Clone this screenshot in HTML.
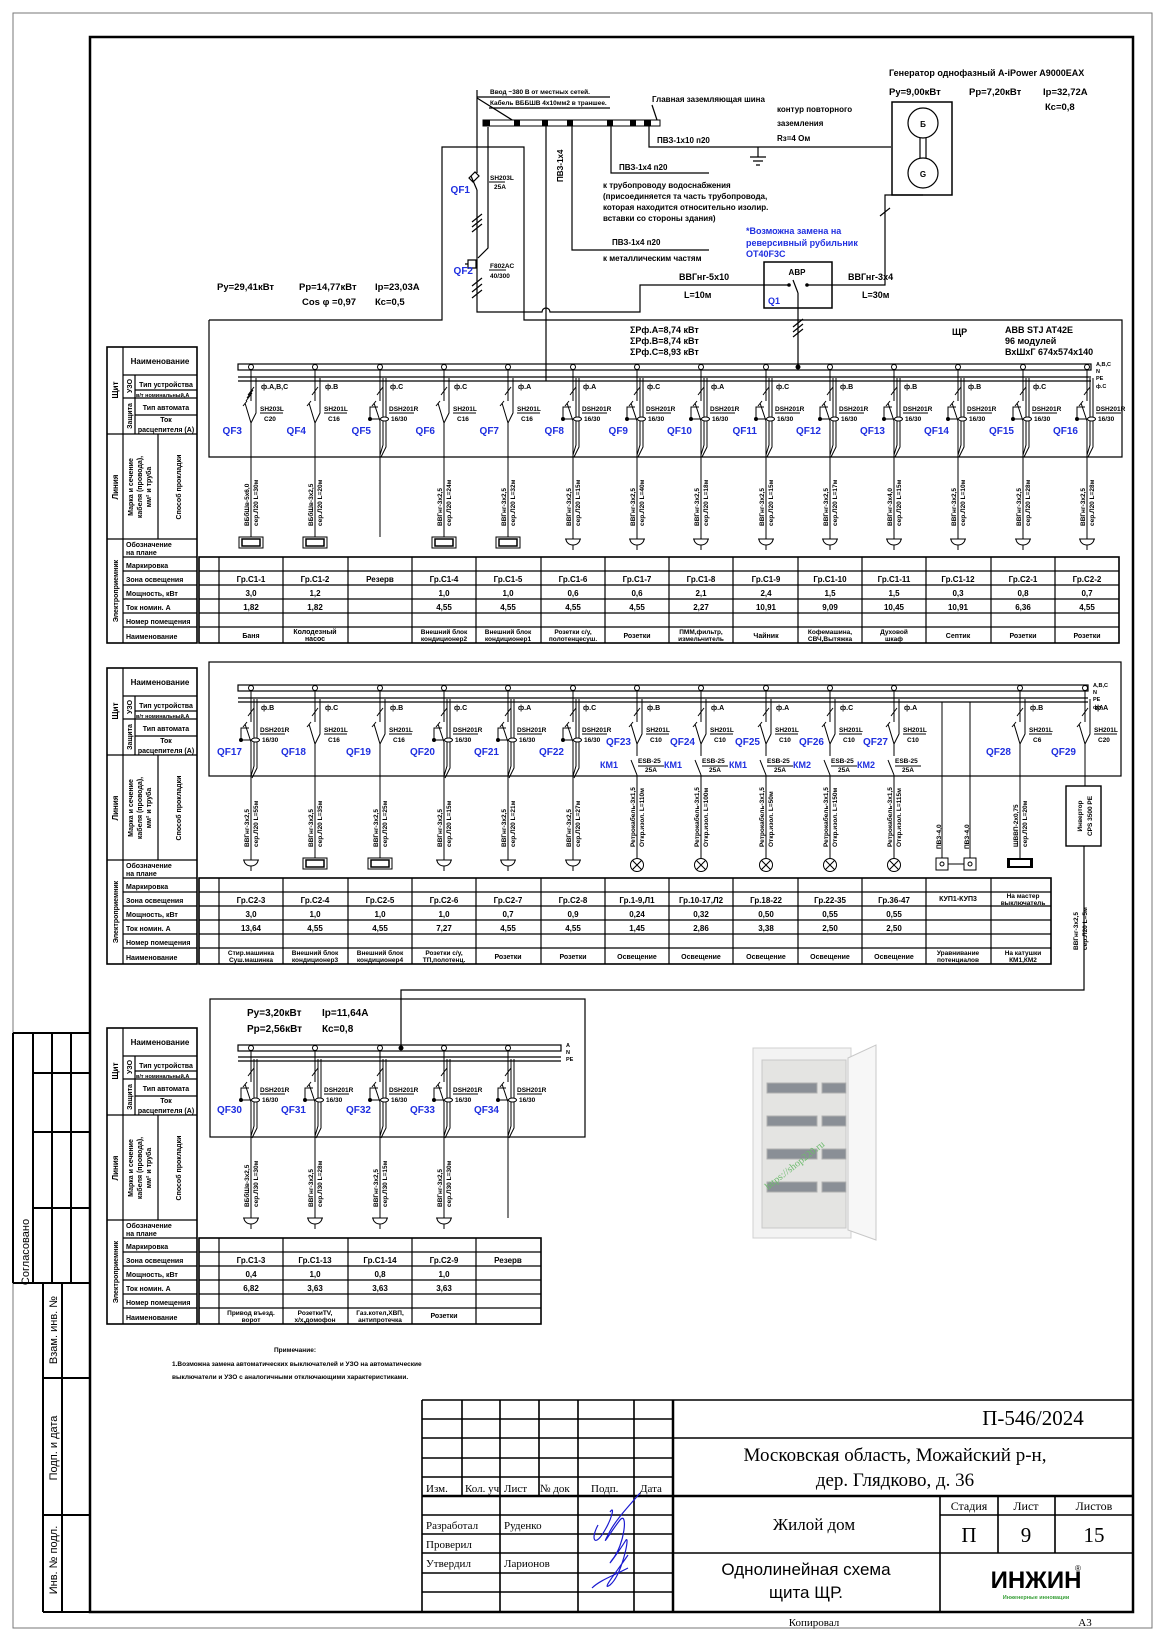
<!DOCTYPE html>
<html><head><meta charset="utf-8"><style>
html,body{margin:0;padding:0;background:#fff}
svg{display:block}
text{font-family:"Liberation Sans Narrow","Liberation Sans",sans-serif;font-weight:bold;font-size:8px;fill:#000}
.c{text-anchor:middle}.e{text-anchor:end}
.q{fill:#1f2fe0;font-size:10px}
.s{font-size:6.5px}
.m{font-size:9.5px;font-weight:normal}
.r{font-family:"Liberation Serif",serif;font-weight:normal}
.k{font-size:7px}
</style></head><body>
<svg width="1166" height="1649" viewBox="0 0 1166 1649" xmlns="http://www.w3.org/2000/svg">
<defs>
<g id="sh" fill="none" stroke="#000" stroke-width="1"><circle r="2.5" fill="#fff"/><path d="M0,2.5V34M-6,36L0,56M-8,39L-4,34M5,11V46L0,56M0,56V90M-3,28L3,20M9,46H32"/></g>
<g id="sh3" fill="none" stroke="#000" stroke-width="1"><circle r="2.5" fill="#fff"/><path d="M0,2.5V34M-6,36L0,56M-8,39L-4,34M5,11V46L0,56M0,56V90M-3,28L3,20M-4,31L2,23M-5,34L1,26M9,46H32"/></g>
<g id="dsh" fill="none" stroke="#000" stroke-width="1"><circle r="2.5" fill="#fff"/><path d="M0,2.5V34M-6,36L0,54M-8,39L-4,34M3,11V78L0,88M6,11V80L1,90M0,54V90M-3,28L3,20M-2,40H-10V52H9M9,46H34"/><ellipse cx="4.5" cy="52" rx="4" ry="2" fill="#fff"/><circle cx="-10" cy="52" r="1.5" fill="#000"/></g>
<g id="shk" fill="none" stroke="#000" stroke-width="1"><circle r="2.5" fill="#fff"/><path d="M0,2.5V34M-6,36L0,56M-8,39L-4,34M5,11V46L0,56M0,56V68M-6,72L0,87M0,87V170M-3,28L3,20M9,46H32M1,78H27"/></g>
<path id="feed" d="M0,90V170" stroke="#000" fill="none"/>
<g id="sock" fill="none" stroke="#000"><path d="M0,0V2M-8,2H8M-7,2A7,6 0 0 0 7,2M0,8V13"/></g>
<g id="boxL" fill="none" stroke="#000"><rect x="-12" y="0" width="24" height="11"/><rect x="-9" y="2" width="18" height="7" stroke-width="1.5"/></g>
<g id="lamp" fill="none" stroke="#000"><circle cy="7" r="6.5"/><path d="M-4.6,2.4L4.6,11.6M4.6,2.4L-4.6,11.6"/></g>
<g id="hdrl" fill="none" stroke="#000" stroke-width="1.2">
<rect x="107" y="347" width="90" height="296" stroke-width="1.6"/>
<path d="M123,347V643M107,434H197M107,539H197M123,375H197M123,398H197M135,375V434M135,390H197M135,415H197M158,434V539M123,557H197M123,571H197M123,585H197M123,599H197M123,613H197M123,627H197"/>
</g>
</defs>

<!-- page borders -->
<rect x="13" y="13" width="1139" height="1615" fill="none" stroke="#777" stroke-width="1"/>
<rect x="90" y="37" width="1043" height="1575" fill="none" stroke="#000" stroke-width="2.5"/>

<!-- left strip -->
<g fill="none" stroke="#000" stroke-width="2">
<path d="M13,1033H90M33,1033V1283M52,1033V1283M71,1033V1283M33,1073H90M33,1132H90M33,1208H90M13,1283H90M43,1283V1612M62,1283V1612M43,1378H90M43,1515H90M43,1612H90M13,1033V1283"/>
</g>
<text transform="translate(29,1252) rotate(-90)" class="c m" style="font-size:11px">Согласовано</text>
<text transform="translate(57,1330) rotate(-90)" class="c m" style="font-size:11px">Взам. инв. №</text>
<text transform="translate(57,1448) rotate(-90)" class="c m" style="font-size:11px">Подп. и дата</text>
<text transform="translate(57,1560) rotate(-90)" class="c m" style="font-size:11px">Инв. № подл.</text>

<!-- ============ TOP AREA ============ -->
<g fill="none" stroke="#000" stroke-width="1.2">
<path d="M477,90V173M477,190V312H542A4,4 0 0 1 550,312H640V285H789"/>
<path d="M477,98L517,123M488,127V248L478,258"/>
<path d="M471,176L477,190M469,178L475,172L479,176L473,182Z"/>
<path d="M472,222L482,214M472,227L482,219M472,232L482,224M472,286L482,278M472,292L482,284M472,298L482,290"/>
<path d="M468,260H476V268H468ZM465,264H468"/>
<path d="M477,97H610M489,108H610"/>
<path d="M652,105L657,120"/>
<path d="M546,126V381"/>
<path d="M572,126V250H709M611,126V173H709M649,126V147H891M758,147V157M750,157H766M753,161H763M756,165H760"/>
<path d="M209,320H442V147H524V320H1122V457H209V320"/>
<rect x="764" y="262" width="68" height="46" stroke-width="1.5"/>
<path d="M807,285H885V195H923M880,216L890,208M798,293V367M793,280L798,293M798,316L798,308"/>
<path d="M793,327L803,319M793,332L803,324M793,337L803,329"/>
<rect x="892" y="102" width="60" height="93" stroke-width="1.5"/>
<circle cx="923" cy="123" r="15"/><circle cx="923" cy="173" r="15"/>
<path d="M920,138V158M926,138V158"/>
</g>
<rect x="483" y="120" width="177" height="6" fill="#fff" stroke="#000"/>
<g fill="#000"><rect x="483" y="120" width="7" height="6"/><rect x="514" y="120" width="6" height="6"/><rect x="542" y="120" width="6" height="6"/><rect x="567" y="120" width="6" height="6"/><rect x="607" y="120" width="6" height="6"/><rect x="630" y="120" width="6" height="6"/><rect x="644" y="120" width="7" height="6"/>
<circle cx="789" cy="285" r="1.8"/><circle cx="807" cy="285" r="1.8"/><circle cx="798" cy="367" r="2.5"/></g>
<text x="490" y="94" class="s">Ввод ~380 В от местных сетей.</text>
<text x="490" y="105" class="s">Кабель ВББШВ 4х10мм2 в траншее.</text>
<text x="652" y="102">Главная заземляющая шина</text>
<text x="777" y="112">контур повторного</text>
<text x="777" y="126">заземления</text>
<text x="777" y="141">Rз=4 Ом</text>
<text x="657" y="143">ПВЗ-1х10 п20</text>
<text transform="translate(563,182) rotate(-90)">ПВЗ-1х4</text>
<text x="619" y="170">ПВЗ-1х4 п20</text>
<text x="603" y="188">к трубопроводу водоснабжения</text>
<text x="603" y="199">(присоединяется та часть трубопровода,</text>
<text x="603" y="210">которая находится относительно изолир.</text>
<text x="603" y="221">вставки со стороны здания)</text>
<text x="612" y="245">ПВЗ-1х4 п20</text>
<text x="603" y="261">к металлическим частям</text>
<text x="746" y="234" class="q" style="font-size:9px">*Возможна замена на</text>
<text x="746" y="246" class="q" style="font-size:9px">реверсивный рубильник</text>
<text x="746" y="257" class="q" style="font-size:9px">OT40F3C</text>
<text x="889" y="76" style="font-size:9px">Генератор однофазный A-iPower A9000EAX</text>
<text x="889" y="95" style="font-size:9.5px">Ру=9,00кВт</text>
<text x="969" y="95" style="font-size:9.5px">Рр=7,20кВт</text>
<text x="1043" y="95" style="font-size:9.5px">Iр=32,72А</text>
<text x="1045" y="110" style="font-size:9.5px">Кс=0,8</text>
<text x="923" y="127" class="c">Б</text><text x="923" y="177" class="c">G</text>
<text x="797" y="275" class="c">АВР</text>
<text x="768" y="304" class="q" style="font-size:9px">Q1</text>
<text x="679" y="280" style="font-size:9px">ВВГнг-5х10</text>
<text x="684" y="298" style="font-size:9px">L=10м</text>
<text x="848" y="280" style="font-size:9px">ВВГнг-3х4</text>
<text x="862" y="298" style="font-size:9px">L=30м</text>
<text x="470" y="193" class="q e">QF1</text>
<text x="473" y="274" class="q e">QF2</text>
<text x="490" y="180" class="s">SH203L</text><text x="494" y="189" class="s">25A</text>
<text x="490" y="268" class="s">F802AC</text><text x="490" y="278" class="s">40/300</text>
<path d="M489,182H505M489,270H506" stroke="#000"/>
<text x="217" y="290" style="font-size:9.5px">Ру=29,41кВт</text>
<text x="299" y="290" style="font-size:9.5px">Рр=14,77кВт</text>
<text x="375" y="290" style="font-size:9.5px">Iр=23,03А</text>
<text x="302" y="305" style="font-size:9.5px">Cos φ =0,97</text>
<text x="375" y="305" style="font-size:9.5px">Кс=0,5</text>
<text x="630" y="333" style="font-size:9px">ΣPф.А=8,74 кВт</text>
<text x="630" y="344" style="font-size:9px">ΣPф.В=8,74 кВт</text>
<text x="630" y="355" style="font-size:9px">ΣPф.С=8,93 кВт</text>
<text x="952" y="335" style="font-size:9px">ЩР</text>
<text x="1005" y="333" style="font-size:9px">ABB STJ AT42E</text>
<text x="1005" y="344" style="font-size:9px">96 модулей</text>
<text x="1005" y="355" style="font-size:9px">ВхШхГ 674х574х140</text>

<!-- ============ SECTION 1 ============ -->
<g fill="none" stroke="#000" stroke-width="1.2"><rect x="238" y="364" width="853" height="6"/><path d="M238,377H1091M238,381H1091"/></g>
<text x="1096" y="366" class="s" style="font-size:5.5px">A,B,C</text><text x="1096" y="373" class="s" style="font-size:5.5px">N</text><text x="1096" y="380" class="s" style="font-size:5.5px">PE</text><text x="1096" y="388" class="s" style="font-size:5.5px">ф.С</text>

<use href="#hdrl"/>
<g>
<text x="160" y="364" class="c">Наименование</text>
<text transform="translate(118,390) rotate(-90)" class="c">Щит</text>
<text transform="translate(132,386) rotate(-90)" class="c k">УЗО</text>
<text transform="translate(132,416) rotate(-90)" class="c k">Защита</text>
<text x="166" y="387" class="c k">Тип устройства</text>
<text x="136" y="397" class="s" style="font-size:5.5px">в/т номинальный,А</text>
<text x="166" y="410" class="c k">Тип автомата</text>
<text x="166" y="422" class="c k">Ток</text>
<text x="166" y="432" class="c k">расцепителя (А)</text>
<text transform="translate(118,487) rotate(-90)" class="c">Линия</text>
<text transform="translate(133,487) rotate(-90)" class="c k">Марка и сечение</text>
<text transform="translate(142,487) rotate(-90)" class="c k">кабеля (провода),</text>
<text transform="translate(151,487) rotate(-90)" class="c k">мм² и труба</text>
<text transform="translate(181,487) rotate(-90)" class="c k">Способ прокладки</text>
<text transform="translate(118,591) rotate(-90)" class="c k">Электроприемник</text>
<text x="126" y="547" class="k">Обозначение</text><text x="126" y="555" class="k">на плане</text>
<text x="126" y="568" class="k">Маркировка</text>
<text x="126" y="582" class="k">Зона освещения</text>
<text x="126" y="596" class="k">Мощность, кВт</text>
<text x="126" y="610" class="k">Ток номин. А</text>
<text x="126" y="624" class="k">Номер помещения</text>
<text x="126" y="639" class="k">Наименование</text>
</g>
<g fill="none" stroke="#000" stroke-width="1.2">
<rect x="199" y="557" width="920" height="86" stroke-width="1.6"/>
<path d="M199,571H1119M199,585H1119M199,599H1119M199,613H1119M199,627H1119M219,557V643M283,557V643M348,557V643M412,557V643M476,557V643M541,557V643M605,557V643M669,557V643M733,557V643M798,557V643M862,557V643M926,557V643M991,557V643M1055,557V643"/>
</g>
<g>
<text x="251" y="582" class="c">Гр.С1-1</text><text x="315" y="582" class="c">Гр.С1-2</text><text x="380" y="582" class="c">Резерв</text><text x="444" y="582" class="c">Гр.С1-4</text><text x="508" y="582" class="c">Гр.С1-5</text><text x="573" y="582" class="c">Гр.С1-6</text><text x="637" y="582" class="c">Гр.С1-7</text><text x="701" y="582" class="c">Гр.С1-8</text><text x="766" y="582" class="c">Гр.С1-9</text><text x="830" y="582" class="c">Гр.С1-10</text><text x="894" y="582" class="c">Гр.С1-11</text><text x="958" y="582" class="c">Гр.С1-12</text><text x="1023" y="582" class="c">Гр.С2-1</text><text x="1087" y="582" class="c">Гр.С2-2</text>
<text x="251" y="596" class="c">3,0</text><text x="315" y="596" class="c">1,2</text><text x="444" y="596" class="c">1,0</text><text x="508" y="596" class="c">1,0</text><text x="573" y="596" class="c">0,6</text><text x="637" y="596" class="c">0,6</text><text x="701" y="596" class="c">2,1</text><text x="766" y="596" class="c">2,4</text><text x="830" y="596" class="c">1,5</text><text x="894" y="596" class="c">1,5</text><text x="958" y="596" class="c">0,3</text><text x="1023" y="596" class="c">0,8</text><text x="1087" y="596" class="c">0,7</text>
<text x="251" y="610" class="c">1,82</text><text x="315" y="610" class="c">1,82</text><text x="444" y="610" class="c">4,55</text><text x="508" y="610" class="c">4,55</text><text x="573" y="610" class="c">4,55</text><text x="637" y="610" class="c">4,55</text><text x="701" y="610" class="c">2,27</text><text x="766" y="610" class="c">10,91</text><text x="830" y="610" class="c">9,09</text><text x="894" y="610" class="c">10,45</text><text x="958" y="610" class="c">10,91</text><text x="1023" y="610" class="c">6,36</text><text x="1087" y="610" class="c">4,55</text>
<text x="251" y="638" class="c k">Баня</text>
<text x="315" y="634" class="c k">Колодезный</text><text x="315" y="641" class="c k">насос</text>
<text x="444" y="634" class="c s">Внешний блок</text><text x="444" y="641" class="c s">кондиционер2</text>
<text x="508" y="634" class="c s">Внешний блок</text><text x="508" y="641" class="c s">кондиционер1</text>
<text x="573" y="634" class="c s">Розетки с/у,</text><text x="573" y="641" class="c s">полотенцесуш.</text>
<text x="637" y="638" class="c k">Розетки</text>
<text x="701" y="634" class="c s">ПММ,фильтр,</text><text x="701" y="641" class="c s">измельчитель</text>
<text x="766" y="638" class="c k">Чайник</text>
<text x="830" y="634" class="c s">Кофемашина,</text><text x="830" y="641" class="c s">СВЧ,Вытяжка</text>
<text x="894" y="634" class="c s">Духовой</text><text x="894" y="641" class="c s">шкаф</text>
<text x="958" y="638" class="c k">Септик</text><text x="1023" y="638" class="c k">Розетки</text><text x="1087" y="638" class="c k">Розетки</text>
</g>

<!-- S1 columns -->
<g transform="translate(251,0)"><use href="#sh3" y="367"/><use href="#feed" y="367"/><use href="#boxL" y="537"/>
<text x="10" y="389" class="k">ф.А,В,С</text><text x="9" y="411" class="s">SH203L</text><text x="13" y="421" class="s">C20</text><text x="-9" y="434" class="q e">QF3</text>
<text transform="translate(-2,526) rotate(-90)" class="s">ВБбШв-5х6,0</text><text transform="translate(7,526) rotate(-90)" class="s">сер.Л20 L=30м</text></g>
<g transform="translate(315,0)"><use href="#sh" y="367"/><use href="#feed" y="367"/><use href="#boxL" y="537"/>
<text x="10" y="389" class="k">ф.В</text><text x="9" y="411" class="s">SH201L</text><text x="13" y="421" class="s">C16</text><text x="-9" y="434" class="q e">QF4</text>
<text transform="translate(-2,526) rotate(-90)" class="s">ВБбШв-3х2,5</text><text transform="translate(7,526) rotate(-90)" class="s">сер.Л20 L=20м</text></g>
<g transform="translate(380,0)"><use href="#dsh" y="367"/><use href="#feed" y="367"/>
<text x="10" y="389" class="k">ф.С</text><text x="9" y="411" class="s">DSH201R</text><text x="11" y="421" class="s">16/30</text><text x="-9" y="434" class="q e">QF5</text></g>
<g transform="translate(444,0)"><use href="#sh" y="367"/><use href="#feed" y="367"/><use href="#boxL" y="537"/>
<text x="10" y="389" class="k">ф.С</text><text x="9" y="411" class="s">SH201L</text><text x="13" y="421" class="s">C16</text><text x="-9" y="434" class="q e">QF6</text>
<text transform="translate(-2,526) rotate(-90)" class="s">ВВГнг-3х2,5</text><text transform="translate(7,526) rotate(-90)" class="s">сер.Л20 L=24м</text></g>
<g transform="translate(508,0)"><use href="#sh" y="367"/><use href="#feed" y="367"/><use href="#boxL" y="537"/>
<text x="10" y="389" class="k">ф.А</text><text x="9" y="411" class="s">SH201L</text><text x="13" y="421" class="s">C16</text><text x="-9" y="434" class="q e">QF7</text>
<text transform="translate(-2,526) rotate(-90)" class="s">ВВГнг-3х2,5</text><text transform="translate(7,526) rotate(-90)" class="s">сер.Л20 L=32м</text></g>
<g transform="translate(573,0)"><use href="#dsh" y="367"/><use href="#feed" y="367"/><use href="#sock" y="537"/>
<text x="10" y="389" class="k">ф.А</text><text x="9" y="411" class="s">DSH201R</text><text x="11" y="421" class="s">16/30</text><text x="-9" y="434" class="q e">QF8</text>
<text transform="translate(-2,526) rotate(-90)" class="s">ВВГнг-3х2,5</text><text transform="translate(7,526) rotate(-90)" class="s">сер.Л20 L=15м</text></g>
<g transform="translate(637,0)"><use href="#dsh" y="367"/><use href="#feed" y="367"/><use href="#sock" y="537"/>
<text x="10" y="389" class="k">ф.С</text><text x="9" y="411" class="s">DSH201R</text><text x="11" y="421" class="s">16/30</text><text x="-9" y="434" class="q e">QF9</text>
<text transform="translate(-2,526) rotate(-90)" class="s">ВВГнг-3х2,5</text><text transform="translate(7,526) rotate(-90)" class="s">сер.Л20 L=40м</text></g>
<g transform="translate(701,0)"><use href="#dsh" y="367"/><use href="#feed" y="367"/><use href="#sock" y="537"/>
<text x="10" y="389" class="k">ф.А</text><text x="9" y="411" class="s">DSH201R</text><text x="11" y="421" class="s">16/30</text><text x="-9" y="434" class="q e">QF10</text>
<text transform="translate(-2,526) rotate(-90)" class="s">ВВГнг-3х2,5</text><text transform="translate(7,526) rotate(-90)" class="s">сер.Л20 L=18м</text></g>
<g transform="translate(766,0)"><use href="#dsh" y="367"/><use href="#feed" y="367"/><use href="#sock" y="537"/>
<text x="10" y="389" class="k">ф.С</text><text x="9" y="411" class="s">DSH201R</text><text x="11" y="421" class="s">16/30</text><text x="-9" y="434" class="q e">QF11</text>
<text transform="translate(-2,526) rotate(-90)" class="s">ВВГнг-3х2,5</text><text transform="translate(7,526) rotate(-90)" class="s">сер.Л20 L=15м</text></g>
<g transform="translate(830,0)"><use href="#dsh" y="367"/><use href="#feed" y="367"/><use href="#sock" y="537"/>
<text x="10" y="389" class="k">ф.В</text><text x="9" y="411" class="s">DSH201R</text><text x="11" y="421" class="s">16/30</text><text x="-9" y="434" class="q e">QF12</text>
<text transform="translate(-2,526) rotate(-90)" class="s">ВВГнг-3х2,5</text><text transform="translate(7,526) rotate(-90)" class="s">сер.Л20 L=17м</text></g>
<g transform="translate(894,0)"><use href="#dsh" y="367"/><use href="#feed" y="367"/><use href="#sock" y="537"/>
<text x="10" y="389" class="k">ф.В</text><text x="9" y="411" class="s">DSH201R</text><text x="11" y="421" class="s">16/30</text><text x="-9" y="434" class="q e">QF13</text>
<text transform="translate(-2,526) rotate(-90)" class="s">ВВГнг-3х4,0</text><text transform="translate(7,526) rotate(-90)" class="s">сер.Л20 L=15м</text></g>
<g transform="translate(958,0)"><use href="#dsh" y="367"/><use href="#feed" y="367"/><use href="#sock" y="537"/>
<text x="10" y="389" class="k">ф.В</text><text x="9" y="411" class="s">DSH201R</text><text x="11" y="421" class="s">16/30</text><text x="-9" y="434" class="q e">QF14</text>
<text transform="translate(-2,526) rotate(-90)" class="s">ВВГнг-3х2,5</text><text transform="translate(7,526) rotate(-90)" class="s">сер.Л20 L=10м</text></g>
<g transform="translate(1023,0)"><use href="#dsh" y="367"/><use href="#feed" y="367"/><use href="#sock" y="537"/>
<text x="10" y="389" class="k">ф.С</text><text x="9" y="411" class="s">DSH201R</text><text x="11" y="421" class="s">16/30</text><text x="-9" y="434" class="q e">QF15</text>
<text transform="translate(-2,526) rotate(-90)" class="s">ВВГнг-3х2,5</text><text transform="translate(7,526) rotate(-90)" class="s">сер.Л20 L=28м</text></g>
<g transform="translate(1087,0)"><use href="#dsh" y="367"/><use href="#feed" y="367"/><use href="#sock" y="537"/>
<text x="9" y="411" class="s">DSH201R</text><text x="11" y="421" class="s">16/30</text><text x="-9" y="434" class="q e">QF16</text>
<text transform="translate(-2,526) rotate(-90)" class="s">ВВГнг-3х2,5</text><text transform="translate(7,526) rotate(-90)" class="s">сер.Л20 L=28м</text></g>

<!-- ============ SECTION 2 ============ -->
<rect x="209" y="662" width="912" height="114" fill="none" stroke="#000" stroke-width="1.2"/>
<g transform="translate(0,321)">
<g fill="none" stroke="#000" stroke-width="1.2"><rect x="238" y="364" width="850" height="6"/><path d="M238,377H1088M238,381H1088"/></g>
<text x="1093" y="366" class="s" style="font-size:5.5px">A,B,C</text><text x="1093" y="373" class="s" style="font-size:5.5px">N</text><text x="1093" y="380" class="s" style="font-size:5.5px">PE</text><text x="1093" y="388" class="s" style="font-size:5.5px">ф.А</text>
<use href="#hdrl"/>
<text x="160" y="364" class="c">Наименование</text>
<text transform="translate(118,390) rotate(-90)" class="c">Щит</text>
<text transform="translate(132,386) rotate(-90)" class="c k">УЗО</text>
<text transform="translate(132,416) rotate(-90)" class="c k">Защита</text>
<text x="166" y="387" class="c k">Тип устройства</text>
<text x="136" y="397" class="s" style="font-size:5.5px">в/т номинальный,А</text>
<text x="166" y="410" class="c k">Тип автомата</text>
<text x="166" y="422" class="c k">Ток</text>
<text x="166" y="432" class="c k">расцепителя (А)</text>
<text transform="translate(118,487) rotate(-90)" class="c">Линия</text>
<text transform="translate(133,487) rotate(-90)" class="c k">Марка и сечение</text>
<text transform="translate(142,487) rotate(-90)" class="c k">кабеля (провода),</text>
<text transform="translate(151,487) rotate(-90)" class="c k">мм² и труба</text>
<text transform="translate(181,487) rotate(-90)" class="c k">Способ прокладки</text>
<text transform="translate(118,591) rotate(-90)" class="c k">Электроприемник</text>
<text x="126" y="547" class="k">Обозначение</text><text x="126" y="555" class="k">на плане</text>
<text x="126" y="568" class="k">Маркировка</text>
<text x="126" y="582" class="k">Зона освещения</text>
<text x="126" y="596" class="k">Мощность, кВт</text>
<text x="126" y="610" class="k">Ток номин. А</text>
<text x="126" y="624" class="k">Номер помещения</text>
<text x="126" y="639" class="k">Наименование</text>
<g fill="none" stroke="#000" stroke-width="1.2">
<rect x="199" y="557" width="852" height="86" stroke-width="1.6"/>
<path d="M199,571H1051M199,585H1051M199,599H1051M199,613H1051M199,627H1051M219,557V643M283,557V643M348,557V643M412,557V643M476,557V643M541,557V643M605,557V643M669,557V643M733,557V643M798,557V643M862,557V643M926,557V643M991,557V643"/>
</g>
<text x="251" y="582" class="c">Гр.С2-3</text><text x="315" y="582" class="c">Гр.С2-4</text><text x="380" y="582" class="c">Гр.С2-5</text><text x="444" y="582" class="c">Гр.С2-6</text><text x="508" y="582" class="c">Гр.С2-7</text><text x="573" y="582" class="c">Гр.С2-8</text><text x="637" y="582" class="c">Гр.1-9,Л1</text><text x="701" y="582" class="c">Гр.10-17,Л2</text><text x="766" y="582" class="c">Гр.18-22</text><text x="830" y="582" class="c">Гр.22-35</text><text x="894" y="582" class="c">Гр.36-47</text><text x="958" y="580" class="c k">КУП1-КУП3</text>
<text x="1023" y="577" class="c s">На мастер</text><text x="1023" y="584" class="c s">выключатель</text>
<text x="251" y="596" class="c">3,0</text><text x="315" y="596" class="c">1,0</text><text x="380" y="596" class="c">1,0</text><text x="444" y="596" class="c">1,0</text><text x="508" y="596" class="c">0,7</text><text x="573" y="596" class="c">0,9</text><text x="637" y="596" class="c">0,24</text><text x="701" y="596" class="c">0,32</text><text x="766" y="596" class="c">0,50</text><text x="830" y="596" class="c">0,55</text><text x="894" y="596" class="c">0,55</text>
<text x="251" y="610" class="c">13,64</text><text x="315" y="610" class="c">4,55</text><text x="380" y="610" class="c">4,55</text><text x="444" y="610" class="c">7,27</text><text x="508" y="610" class="c">4,55</text><text x="573" y="610" class="c">4,55</text><text x="637" y="610" class="c">1,45</text><text x="701" y="610" class="c">2,86</text><text x="766" y="610" class="c">3,38</text><text x="830" y="610" class="c">2,50</text><text x="894" y="610" class="c">2,50</text>
<text x="251" y="634" class="c s">Стир.машинка</text><text x="251" y="641" class="c s">Суш.машинка</text>
<text x="315" y="634" class="c s">Внешний блок</text><text x="315" y="641" class="c s">кондиционер3</text>
<text x="380" y="634" class="c s">Внешний блок</text><text x="380" y="641" class="c s">кондиционер4</text>
<text x="444" y="634" class="c s">Розетки с/у,</text><text x="444" y="641" class="c s">ТП,полотенц.</text>
<text x="508" y="638" class="c k">Розетки</text><text x="573" y="638" class="c k">Розетки</text>
<text x="637" y="638" class="c k">Освещение</text><text x="701" y="638" class="c k">Освещение</text><text x="766" y="638" class="c k">Освещение</text><text x="830" y="638" class="c k">Освещение</text><text x="894" y="638" class="c k">Освещение</text>
<text x="958" y="634" class="c s">Уравнивание</text><text x="958" y="641" class="c s">потенциалов</text>
<text x="1023" y="634" class="c s">На катушки</text><text x="1023" y="641" class="c s">КМ1,КМ2</text>

<g transform="translate(251,0)"><use href="#dsh" y="367"/><use href="#feed" y="367"/><use href="#sock" y="537"/>
<text x="10" y="389" class="k">ф.В</text><text x="9" y="411" class="s">DSH201R</text><text x="11" y="421" class="s">16/30</text><text x="-9" y="434" class="q e">QF17</text>
<text transform="translate(-2,526) rotate(-90)" class="s">ВВГнг-3х2,5</text><text transform="translate(7,526) rotate(-90)" class="s">сер.Л20 L=55м</text></g>
<g transform="translate(315,0)"><use href="#sh" y="367"/><use href="#feed" y="367"/><use href="#boxL" y="537"/>
<text x="10" y="389" class="k">ф.С</text><text x="9" y="411" class="s">SH201L</text><text x="13" y="421" class="s">C16</text><text x="-9" y="434" class="q e">QF18</text>
<text transform="translate(-2,526) rotate(-90)" class="s">ВВГнг-3х2,5</text><text transform="translate(7,526) rotate(-90)" class="s">сер.Л20 L=35м</text></g>
<g transform="translate(380,0)"><use href="#sh" y="367"/><use href="#feed" y="367"/><use href="#boxL" y="537"/>
<text x="10" y="389" class="k">ф.В</text><text x="9" y="411" class="s">SH201L</text><text x="13" y="421" class="s">C16</text><text x="-9" y="434" class="q e">QF19</text>
<text transform="translate(-2,526) rotate(-90)" class="s">ВВГнг-3х2,5</text><text transform="translate(7,526) rotate(-90)" class="s">сер.Л20 L=25м</text></g>
<g transform="translate(444,0)"><use href="#dsh" y="367"/><use href="#feed" y="367"/><use href="#sock" y="537"/>
<text x="10" y="389" class="k">ф.С</text><text x="9" y="411" class="s">DSH201R</text><text x="11" y="421" class="s">16/30</text><text x="-9" y="434" class="q e">QF20</text>
<text transform="translate(-2,526) rotate(-90)" class="s">ВВГнг-3х2,5</text><text transform="translate(7,526) rotate(-90)" class="s">сер.Л20 L=15м</text></g>
<g transform="translate(508,0)"><use href="#dsh" y="367"/><use href="#feed" y="367"/><use href="#sock" y="537"/>
<text x="10" y="389" class="k">ф.А</text><text x="9" y="411" class="s">DSH201R</text><text x="11" y="421" class="s">16/30</text><text x="-9" y="434" class="q e">QF21</text>
<text transform="translate(-2,526) rotate(-90)" class="s">ВВГнг-3х2,5</text><text transform="translate(7,526) rotate(-90)" class="s">сер.Л20 L=21м</text></g>
<g transform="translate(573,0)"><use href="#dsh" y="367"/><use href="#feed" y="367"/><use href="#sock" y="537"/>
<text x="10" y="389" class="k">ф.С</text><text x="9" y="411" class="s">DSH201R</text><text x="11" y="421" class="s">16/30</text><text x="-9" y="434" class="q e">QF22</text>
<text transform="translate(-2,526) rotate(-90)" class="s">ВВГнг-3х2,5</text><text transform="translate(7,526) rotate(-90)" class="s">сер.Л20 L=27м</text></g>
<g transform="translate(637,0)"><use href="#shk" y="367"/><use href="#lamp" y="537"/>
<text x="10" y="389" class="k">ф.В</text><text x="9" y="411" class="s">SH201L</text><text x="13" y="421" class="s">C10</text><text x="-6" y="424" class="q e">QF23</text>
<text x="1" y="442" class="s">ESB-25</text><text x="8" y="451" class="s">25A</text><text x="-19" y="447" class="q e" style="font-size:9px">КМ1</text>
<text transform="translate(-2,526) rotate(-90)" class="s">Ретрокабель-3х1,5</text><text transform="translate(7,526) rotate(-90)" class="s">Откр.изол. L=110м</text></g>
<g transform="translate(701,0)"><use href="#shk" y="367"/><use href="#lamp" y="537"/>
<text x="10" y="389" class="k">ф.А</text><text x="9" y="411" class="s">SH201L</text><text x="13" y="421" class="s">C10</text><text x="-6" y="424" class="q e">QF24</text>
<text x="1" y="442" class="s">ESB-25</text><text x="8" y="451" class="s">25A</text><text x="-19" y="447" class="q e" style="font-size:9px">КМ1</text>
<text transform="translate(-2,526) rotate(-90)" class="s">Ретрокабель-3х1,5</text><text transform="translate(7,526) rotate(-90)" class="s">Откр.изол. L=100м</text></g>
<g transform="translate(766,0)"><use href="#shk" y="367"/><use href="#lamp" y="537"/>
<text x="10" y="389" class="k">ф.А</text><text x="9" y="411" class="s">SH201L</text><text x="13" y="421" class="s">C10</text><text x="-6" y="424" class="q e">QF25</text>
<text x="1" y="442" class="s">ESB-25</text><text x="8" y="451" class="s">25A</text><text x="-19" y="447" class="q e" style="font-size:9px">КМ1</text>
<text transform="translate(-2,526) rotate(-90)" class="s">Ретрокабель-3х1,5</text><text transform="translate(7,526) rotate(-90)" class="s">Откр.изол. L=50м</text></g>
<g transform="translate(830,0)"><use href="#shk" y="367"/><use href="#lamp" y="537"/>
<text x="10" y="389" class="k">ф.С</text><text x="9" y="411" class="s">SH201L</text><text x="13" y="421" class="s">C10</text><text x="-6" y="424" class="q e">QF26</text>
<text x="1" y="442" class="s">ESB-25</text><text x="8" y="451" class="s">25A</text><text x="-19" y="447" class="q e" style="font-size:9px">КМ2</text>
<text transform="translate(-2,526) rotate(-90)" class="s">Ретрокабель-3х1,5</text><text transform="translate(7,526) rotate(-90)" class="s">Откр.изол. L=150м</text></g>
<g transform="translate(894,0)"><use href="#shk" y="367"/><use href="#lamp" y="537"/>
<text x="10" y="389" class="k">ф.А</text><text x="9" y="411" class="s">SH201L</text><text x="13" y="421" class="s">C10</text><text x="-6" y="424" class="q e">QF27</text>
<text x="1" y="442" class="s">ESB-25</text><text x="8" y="451" class="s">25A</text><text x="-19" y="447" class="q e" style="font-size:9px">КМ2</text>
<text transform="translate(-2,526) rotate(-90)" class="s">Ретрокабель-3х1,5</text><text transform="translate(7,526) rotate(-90)" class="s">Откр.изол. L=115м</text></g>
<g fill="none" stroke="#000"><path d="M942,381V537M970,381V537M948,543H964"/><rect x="936" y="537" width="12" height="12"/><rect x="964" y="537" width="12" height="12"/><circle cx="942" cy="543" r="2"/><circle cx="970" cy="543" r="2"/></g>
<text transform="translate(941,528) rotate(-90)" class="s">ПВЗ-4,0</text><text transform="translate(969,528) rotate(-90)" class="s">ПВЗ-4,0</text>
<g transform="translate(1020,0)"><use href="#sh" y="367"/><use href="#feed" y="367"/>
<rect x="-13" y="537" width="26" height="10" fill="#000"/><rect x="-10" y="539" width="20" height="6" fill="#fff"/>
<text x="10" y="389" class="k">ф.В</text><text x="9" y="411" class="s">SH201L</text><text x="13" y="421" class="s">C6</text><text x="-9" y="434" class="q e">QF28</text>
<text transform="translate(-2,526) rotate(-90)" class="s">ШВВП-2х0,75</text><text transform="translate(7,526) rotate(-90)" class="s">сер.Л20 L=20м</text></g>
<g transform="translate(1085,0)"><use href="#sh" y="367"/><path d="M0,457V465" stroke="#000"/>
<text x="10" y="389" class="k">ф.А</text><text x="9" y="411" class="s">SH201L</text><text x="13" y="421" class="s">C20</text><text x="-9" y="434" class="q e">QF29</text></g>
</g>
<rect x="1066" y="786" width="35" height="60" fill="none" stroke="#000" stroke-width="1.4"/>
<text transform="translate(1082,816) rotate(-90)" class="c s">Инвертор</text><text transform="translate(1092,816) rotate(-90)" class="c s">CPS 3500 PE</text>
<path d="M1084,846V990H401V1048" fill="none" stroke="#000" stroke-width="1.2"/>
<text transform="translate(1078,950) rotate(-90)" class="s">ВВГнг-3х2,5</text><text transform="translate(1087,950) rotate(-90)" class="s">сер.Л20 L=5м</text>

<!-- ============ SECTION 3 ============ -->
<rect x="210" y="999" width="375" height="138" fill="none" stroke="#000" stroke-width="1.2"/>
<text x="247" y="1016" style="font-size:10px">Ру=3,20кВт</text><text x="322" y="1016" style="font-size:10px">Iр=11,64А</text>
<text x="247" y="1032" style="font-size:10px">Рр=2,56кВт</text><text x="322" y="1032" style="font-size:10px">Кс=0,8</text>
<g transform="translate(0,681)">
<g fill="none" stroke="#000" stroke-width="1.2"><rect x="238" y="364" width="323" height="6"/><path d="M238,376H561M238,380H561"/></g>
<circle cx="401" cy="367" r="2.5"/>
<text x="566" y="366" class="s" style="font-size:5.5px">A</text><text x="566" y="373" class="s" style="font-size:5.5px">N</text><text x="566" y="380" class="s" style="font-size:5.5px">PE</text>
<use href="#hdrl"/>
<text x="160" y="364" class="c">Наименование</text>
<text transform="translate(118,390) rotate(-90)" class="c">Щит</text>
<text transform="translate(132,386) rotate(-90)" class="c k">УЗО</text>
<text transform="translate(132,416) rotate(-90)" class="c k">Защита</text>
<text x="166" y="387" class="c k">Тип устройства</text>
<text x="136" y="397" class="s" style="font-size:5.5px">в/т номинальный,А</text>
<text x="166" y="410" class="c k">Тип автомата</text>
<text x="166" y="422" class="c k">Ток</text>
<text x="166" y="432" class="c k">расцепителя (А)</text>
<text transform="translate(118,487) rotate(-90)" class="c">Линия</text>
<text transform="translate(133,487) rotate(-90)" class="c k">Марка и сечение</text>
<text transform="translate(142,487) rotate(-90)" class="c k">кабеля (провода),</text>
<text transform="translate(151,487) rotate(-90)" class="c k">мм² и труба</text>
<text transform="translate(181,487) rotate(-90)" class="c k">Способ прокладки</text>
<text transform="translate(118,591) rotate(-90)" class="c k">Электроприемник</text>
<text x="126" y="547" class="k">Обозначение</text><text x="126" y="555" class="k">на плане</text>
<text x="126" y="568" class="k">Маркировка</text>
<text x="126" y="582" class="k">Зона освещения</text>
<text x="126" y="596" class="k">Мощность, кВт</text>
<text x="126" y="610" class="k">Ток номин. А</text>
<text x="126" y="624" class="k">Номер помещения</text>
<text x="126" y="639" class="k">Наименование</text>
<g fill="none" stroke="#000" stroke-width="1.2">
<rect x="199" y="557" width="342" height="86" stroke-width="1.6"/>
<path d="M199,571H541M199,585H541M199,599H541M199,613H541M199,627H541M219,557V643M283,557V643M348,557V643M412,557V643M476,557V643"/>
</g>
<text x="251" y="582" class="c">Гр.С1-3</text><text x="315" y="582" class="c">Гр.С1-13</text><text x="380" y="582" class="c">Гр.С1-14</text><text x="444" y="582" class="c">Гр.С2-9</text><text x="508" y="582" class="c">Резерв</text>
<text x="251" y="596" class="c">0,4</text><text x="315" y="596" class="c">1,0</text><text x="380" y="596" class="c">0,8</text><text x="444" y="596" class="c">1,0</text>
<text x="251" y="610" class="c">6,82</text><text x="315" y="610" class="c">3,63</text><text x="380" y="610" class="c">3,63</text><text x="444" y="610" class="c">3,63</text>
<text x="251" y="634" class="c s">Привод въезд.</text><text x="251" y="641" class="c s">ворот</text>
<text x="315" y="634" class="c s">РозеткиTV,</text><text x="315" y="641" class="c s">х/х,домофон</text>
<text x="380" y="634" class="c s">Газ.котел,ХВП,</text><text x="380" y="641" class="c s">антипротечка</text>
<text x="444" y="637" class="c k">Розетки</text>
<g transform="translate(251,0)"><use href="#dsh" y="367"/><use href="#feed" y="367"/><use href="#sock" y="535"/>
<text x="9" y="411" class="s">DSH201R</text><text x="11" y="421" class="s">16/30</text><text x="-9" y="432" class="q e">QF30</text>
<text transform="translate(-2,526) rotate(-90)" class="s">ВБбШв-3х2,5</text><text transform="translate(7,526) rotate(-90)" class="s">сер.Л30 L=30м</text></g>
<g transform="translate(315,0)"><use href="#dsh" y="367"/><use href="#feed" y="367"/><use href="#sock" y="535"/>
<text x="9" y="411" class="s">DSH201R</text><text x="11" y="421" class="s">16/30</text><text x="-9" y="432" class="q e">QF31</text>
<text transform="translate(-2,526) rotate(-90)" class="s">ВВГнг-3х2,5</text><text transform="translate(7,526) rotate(-90)" class="s">сер.Л30 L=28м</text></g>
<g transform="translate(380,0)"><use href="#dsh" y="367"/><use href="#feed" y="367"/><use href="#sock" y="535"/>
<text x="9" y="411" class="s">DSH201R</text><text x="11" y="421" class="s">16/30</text><text x="-9" y="432" class="q e">QF32</text>
<text transform="translate(-2,526) rotate(-90)" class="s">ВВГнг-3х2,5</text><text transform="translate(7,526) rotate(-90)" class="s">сер.Л30 L=15м</text></g>
<g transform="translate(444,0)"><use href="#dsh" y="367"/><use href="#feed" y="367"/><use href="#sock" y="535"/>
<text x="9" y="411" class="s">DSH201R</text><text x="11" y="421" class="s">16/30</text><text x="-9" y="432" class="q e">QF33</text>
<text transform="translate(-2,526) rotate(-90)" class="s">ВВГнг-3х2,5</text><text transform="translate(7,526) rotate(-90)" class="s">сер.Л30 L=30м</text></g>
<g transform="translate(508,0)"><use href="#dsh" y="367"/><use href="#feed" y="367"/>
<text x="9" y="411" class="s">DSH201R</text><text x="11" y="421" class="s">16/30</text><text x="-9" y="432" class="q e">QF34</text></g>
</g>

<!-- notes -->
<text x="295" y="1352" class="c s">Примечание:</text>
<text x="172" y="1366" class="s">1.Возможна замена автоматических выключателей и УЗО на автоматические</text>
<text x="172" y="1379" class="s">выключатели и УЗО с аналогичными отключающими характеристиками.</text>

<!-- cabinet photo -->
<g>
<rect x="753" y="1048" width="98" height="190" fill="#f3f3f3" stroke="#d0d0d0"/>
<rect x="762" y="1060" width="84" height="168" fill="#e4e4e2" stroke="#c8c8c8"/>
<g fill="#8a8f96" stroke="#b0b0b0"><rect x="767" y="1083" width="50" height="10"/><rect x="822" y="1083" width="24" height="10"/><rect x="767" y="1116" width="50" height="10"/><rect x="822" y="1116" width="24" height="10"/><rect x="767" y="1149" width="50" height="10"/><rect x="822" y="1149" width="24" height="10"/><rect x="767" y="1182" width="50" height="10"/><rect x="822" y="1182" width="24" height="10"/></g>
<polygon points="848,1058 876,1045 876,1240 848,1230" fill="#f7f7f7" stroke="#c8c8c8"/>
<text transform="translate(768,1190) rotate(-38)" style="font-size:10px;font-family:'Liberation Serif',serif;fill:#6dbb6d;font-weight:normal">https://shop220.ru</text>
</g>

<!-- title block -->
<g fill="none" stroke="#000" stroke-width="1.6">
<path d="M422,1400H1133M422,1400V1612M462,1400V1496M539,1400V1496M500,1400V1612M578,1400V1612M634,1400V1612M673,1400V1612"/>
<path d="M422,1419H673M422,1438H673M422,1458H673M422,1477H673M422,1515H673M422,1534H673M422,1553H673M422,1573H673M422,1592H673"/>
<path d="M673,1438H1133M673,1553H1133M940,1496V1612M998,1496V1553M1055,1496V1553M940,1515H1133" />
<path d="M422,1496H1133" stroke-width="2.5"/>
<path d="M673,1400V1612" stroke-width="2.5"/>
</g>
<text x="1033" y="1425" class="c r" style="font-size:21px">П-546/2024</text>
<text x="895" y="1461" class="c r" style="font-size:19px">Московская область, Можайский р-н,</text>
<text x="895" y="1486" class="c r" style="font-size:19px">дер. Глядково, д. 36</text>
<text x="814" y="1530" class="c r" style="font-size:17px">Жилой дом</text>
<text x="969" y="1510" class="c r" style="font-size:12px">Стадия</text><text x="1026" y="1510" class="c r" style="font-size:12px">Лист</text><text x="1094" y="1510" class="c r" style="font-size:12px">Листов</text>
<text x="969" y="1542" class="c r" style="font-size:21px">П</text><text x="1026" y="1542" class="c r" style="font-size:21px">9</text><text x="1094" y="1542" class="c r" style="font-size:21px">15</text>
<text x="806" y="1575" class="c" style="font-size:17px;font-weight:normal;font-family:'Liberation Sans',sans-serif">Однолинейная схема</text>
<text x="806" y="1598" class="c" style="font-size:17px;font-weight:normal;font-family:'Liberation Sans',sans-serif">щита ЩР.</text>
<text x="1036" y="1588" class="c" style="font-size:24px;font-family:'Liberation Sans',sans-serif;font-weight:bold">ИНЖИН</text>
<text x="1078" y="1571" class="c" style="font-size:8px;font-weight:normal">®</text>
<text x="1036" y="1599" class="c" style="font-size:5.5px;fill:#3aa03a">Инженерные инновации</text>
<text x="426" y="1492" class="r" style="font-size:11px">Изм.</text><text x="465" y="1492" class="r" style="font-size:11px">Кол. уч</text><text x="504" y="1492" class="r" style="font-size:11px">Лист</text><text x="540" y="1492" class="r" style="font-size:11px">№ док</text><text x="591" y="1492" class="r" style="font-size:11px">Подп.</text><text x="640" y="1492" class="r" style="font-size:11px">Дата</text>
<text x="426" y="1529" class="r" style="font-size:11px">Разработал</text><text x="504" y="1529" class="r" style="font-size:11px">Руденко</text>
<text x="426" y="1548" class="r" style="font-size:11px">Проверил</text>
<text x="426" y="1567" class="r" style="font-size:11px">Утвердил</text><text x="504" y="1567" class="r" style="font-size:11px">Ларионов</text>
<text x="814" y="1626" class="c r" style="font-size:11px">Копировал</text>
<text x="1085" y="1626" class="c r" style="font-size:11px">А3</text>
<g fill="none" stroke="#1a1ad0" stroke-width="1.2">
<path d="M640,1493C630,1505 615,1520 608,1535C600,1550 612,1530 620,1520C628,1510 625,1545 612,1560C605,1570 620,1550 626,1540C630,1535 622,1575 610,1585C600,1592 618,1570 628,1555"/>
<path d="M598,1525C590,1540 595,1548 605,1530C612,1518 615,1505 610,1512"/>
<path d="M592,1588C600,1580 615,1575 628,1568"/>
</g>
</svg>
</body></html>
